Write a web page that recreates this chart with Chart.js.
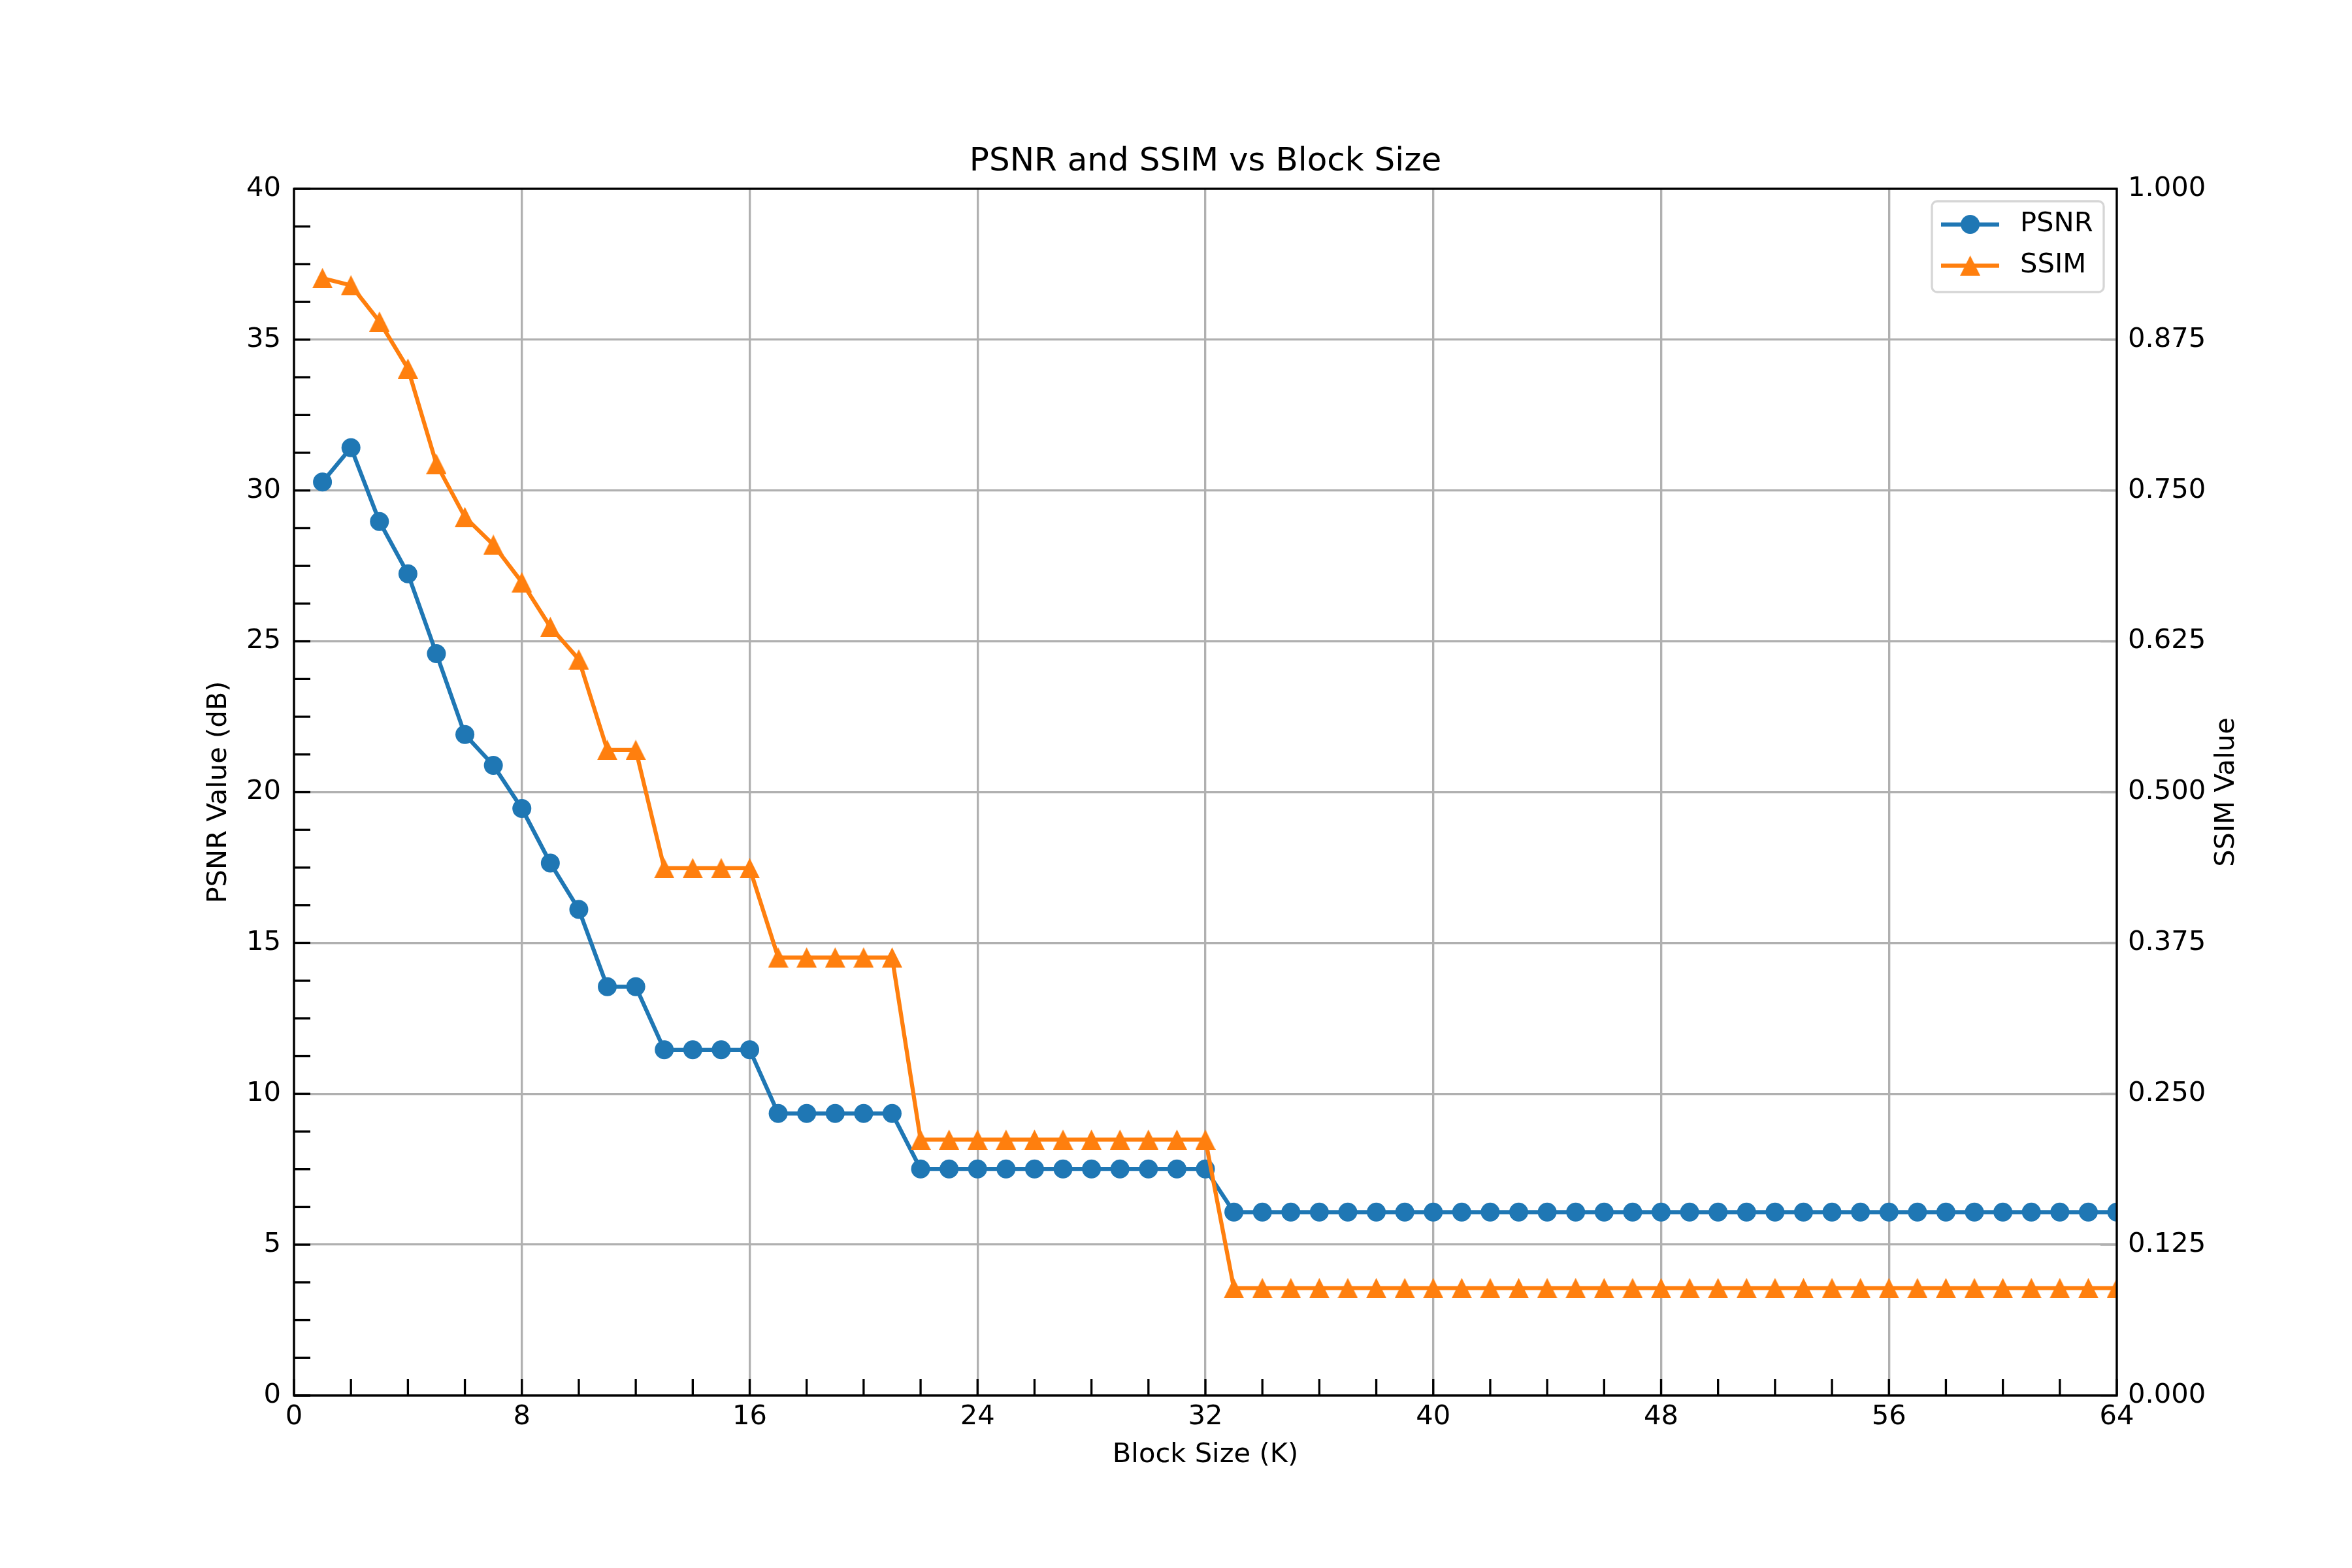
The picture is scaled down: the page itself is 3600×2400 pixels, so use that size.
<!DOCTYPE html>
<html>
<head>
<meta charset="utf-8">
<title>PSNR and SSIM vs Block Size</title>
<script src="https://cdn.jsdelivr.net/npm/chart.js@4.4.1/dist/chart.umd.min.js"></script>
<style>
    html, body { margin: 0; padding: 0; background: #ffffff; }
    #chart { display: block; }
</style>
</head>
<body>
<canvas id="chart" width="3600" height="2400"></canvas>
<script>
// Données
var blockSizes = [1, 2, 3, 4, 5, 6, 7, 8, 9, 10, 11, 12, 13, 14, 15, 16,
    17, 18, 19, 20, 21, 22, 23, 24, 25, 26, 27, 28, 29, 30, 31, 32,
    33, 34, 35, 36, 37, 38, 39, 40, 41, 42, 43, 44, 45, 46, 47, 48,
    49, 50, 51, 52, 53, 54, 55, 56, 57, 58, 59, 60, 61, 62, 63, 64];

var psnrValues = [30.28, 31.42, 28.97, 27.24, 24.59, 21.91, 20.89, 19.46, 17.65, 16.11, 13.55, 13.55,
    11.46, 11.46, 11.46, 11.46,
    9.35, 9.35, 9.35, 9.35, 9.35,
    7.51, 7.51, 7.51, 7.51, 7.51, 7.51, 7.51, 7.51, 7.51, 7.51, 7.51,
    6.08, 6.08, 6.08, 6.08, 6.08, 6.08, 6.08, 6.08, 6.08, 6.08, 6.08, 6.08, 6.08, 6.08, 6.08, 6.08,
    6.08, 6.08, 6.08, 6.08, 6.08, 6.08, 6.08, 6.08, 6.08, 6.08, 6.08, 6.08, 6.08, 6.08, 6.08, 6.08];

var ssimValues = [0.926, 0.920, 0.890, 0.851, 0.772, 0.728, 0.705, 0.674, 0.637, 0.610, 0.535, 0.535,
    0.437, 0.437, 0.437, 0.437,
    0.363, 0.363, 0.363, 0.363, 0.363,
    0.212, 0.212, 0.212, 0.212, 0.212, 0.212, 0.212, 0.212, 0.212, 0.212, 0.212,
    0.089, 0.089, 0.089, 0.089, 0.089, 0.089, 0.089, 0.089, 0.089, 0.089, 0.089, 0.089, 0.089, 0.089, 0.089, 0.089,
    0.089, 0.089, 0.089, 0.089, 0.089, 0.089, 0.089, 0.089, 0.089, 0.089, 0.089, 0.089, 0.089, 0.089, 0.089, 0.089];

var xTicks = [0, 8, 16, 24, 32, 40, 48, 56, 64];
var psnrTicks = [0, 5, 10, 15, 20, 25, 30, 35, 40];
var ssimTicks = [0, 0.125, 0.25, 0.375, 0.5, 0.625, 0.75, 0.875, 1];

var BLUE = '#1f77b4';
var ORANGE = '#ff7f0e';
var GRID = '#b0b0b0';
var FS = 41.67;
var TICK_LEN = 25;

Chart.defaults.font.family = "'DejaVu Sans', 'Liberation Sans', sans-serif";
Chart.defaults.font.size = FS;
Chart.defaults.color = '#000';

function makeTriangle(color, size) {
    var c = document.createElement('canvas');
    c.width = size;
    c.height = size;
    var g = c.getContext('2d');
    g.fillStyle = color;
    g.beginPath();
    g.moveTo(size / 2, 0);
    g.lineTo(size, size);
    g.lineTo(0, size);
    g.closePath();
    g.fill();
    return c;
}
var triangleImg = makeTriangle(ORANGE, 31);

function toPoints(values) {
    return blockSizes.map(function(k, i) { return { x: k, y: values[i] }; });
}

// ticks vers l'intérieur, cadre, titre de droite et légende
var axisDecor = {
    id: 'axisDecor',
    afterDatasetsDraw: function(chart) {
        var ctx = chart.ctx, a = chart.chartArea;
        var xs = chart.scales.x, ys = chart.scales.y, y2 = chart.scales.y2;
        ctx.save();
        ctx.lineCap = 'butt';
        function seg(x1, y1, x2, y2_, w, color) {
            ctx.beginPath();
            ctx.strokeStyle = color;
            ctx.lineWidth = w;
            ctx.moveTo(x1, y1);
            ctx.lineTo(x2, y2_);
            ctx.stroke();
        }
        var v, p;
        for (v = 0; v <= 64; v += 2) {
            p = xs.getPixelForValue(v);
            seg(p, a.bottom, p, a.bottom - TICK_LEN, 3.33, '#000');
        }
        for (v = 0; v <= 40; v += 1.25) {
            p = ys.getPixelForValue(v);
            seg(a.left, p, a.left + TICK_LEN, p, 3.33, '#000');
        }
        ssimTicks.forEach(function(t) {
            p = y2.getPixelForValue(t);
            seg(a.right, p, a.right - TICK_LEN, p, 3.33, GRID);
        });

        ctx.strokeStyle = '#000';
        ctx.lineWidth = 3.33;
        ctx.strokeRect(a.left, a.top, a.right - a.left, a.bottom - a.top);

        // titre de l'axe de droite, lu de bas en haut comme à gauche
        ctx.save();
        ctx.translate(3408.6, (a.top + a.bottom) / 2);
        ctx.rotate(-Math.PI / 2);
        ctx.font = FS + "px 'DejaVu Sans'";
        ctx.fillStyle = '#000';
        ctx.textAlign = 'center';
        ctx.textBaseline = 'middle';
        ctx.fillText('SSIM Value', 0, 0);
        ctx.restore();
        ctx.restore();
    },
    afterDraw: function(chart) {
        var ctx = chart.ctx;
        var bx = 2957, by = 308, bw = 263, bh = 139, r = 8;
        ctx.save();
        ctx.beginPath();
        ctx.moveTo(bx + r, by);
        ctx.arcTo(bx + bw, by, bx + bw, by + bh, r);
        ctx.arcTo(bx + bw, by + bh, bx, by + bh, r);
        ctx.arcTo(bx, by + bh, bx, by, r);
        ctx.arcTo(bx, by, bx + bw, by, r);
        ctx.closePath();
        ctx.fillStyle = 'rgba(255,255,255,0.8)';
        ctx.fill();
        ctx.strokeStyle = 'rgba(204,204,204,0.8)';
        ctx.lineWidth = 3.33;
        ctx.stroke();

        var rows = [
            { label: 'PSNR', color: BLUE, y: 343.5, marker: 'circle' },
            { label: 'SSIM', color: ORANGE, y: 406.6, marker: 'triangle' }
        ];
        rows.forEach(function(row) {
            ctx.beginPath();
            ctx.strokeStyle = row.color;
            ctx.lineWidth = 6.25;
            ctx.moveTo(2971, row.y);
            ctx.lineTo(3060, row.y);
            ctx.stroke();
            if (row.marker === 'circle') {
                ctx.beginPath();
                ctx.fillStyle = row.color;
                ctx.arc(3015.6, row.y, 14.5, 0, Math.PI * 2);
                ctx.fill();
            } else {
                ctx.drawImage(triangleImg, 3015.6 - 15.5, row.y - 15.5);
            }
            ctx.font = FS + "px 'DejaVu Sans'";
            ctx.fillStyle = '#000';
            ctx.textAlign = 'left';
            ctx.textBaseline = 'middle';
            ctx.fillText(row.label, 3092, row.y);
        });
        ctx.restore();
    }
};

new Chart(document.getElementById('chart'), {
    type: 'line',
    data: {
        datasets: [
            {
                label: 'PSNR',
                data: toPoints(psnrValues),
                yAxisID: 'y',
                order: 1,
                borderColor: BLUE,
                backgroundColor: BLUE,
                borderWidth: 6.25,
                borderJoinStyle: 'round',
                tension: 0,
                fill: false,
                clip: 0,
                pointStyle: 'circle',
                pointRadius: 14.5,
                pointHoverRadius: 14.5,
                pointBorderWidth: 0,
                pointBackgroundColor: BLUE
            },
            {
                label: 'SSIM',
                data: toPoints(ssimValues),
                yAxisID: 'y2',
                order: 0,
                borderColor: ORANGE,
                backgroundColor: ORANGE,
                borderWidth: 6.25,
                borderJoinStyle: 'round',
                tension: 0,
                fill: false,
                clip: 0,
                pointStyle: triangleImg,
                pointRadius: 15,
                pointHoverRadius: 15,
                pointBorderWidth: 0,
                pointBackgroundColor: ORANGE
            }
        ]
    },
    options: {
        responsive: false,
        maintainAspectRatio: false,
        devicePixelRatio: 1,
        animation: false,
        events: [],
        layout: { padding: 0 },
        plugins: {
            legend: { display: false },
            tooltip: { enabled: false },
            title: {
                display: true,
                text: 'PSNR and SSIM vs Block Size',
                fullSize: false,
                color: '#000',
                font: { size: 50, weight: 'normal' },
                padding: { top: 218, bottom: 11 }
            }
        },
        scales: {
            x: {
                type: 'linear',
                position: 'bottom',
                min: 0,
                max: 64,
                afterBuildTicks: function(s) { s.ticks = xTicks.map(function(v) { return { value: v }; }); },
                afterFit: function(s) { s.height = 264; },
                grid: { color: GRID, lineWidth: 3.33, drawTicks: false },
                border: { display: false },
                ticks: {
                    padding: 8,
                    maxRotation: 0,
                    autoSkip: false,
                    callback: function(v) { return String(v); }
                },
                title: { display: true, text: 'Block Size (K)', padding: { top: 0, bottom: 147.5 } }
            },
            y: {
                type: 'linear',
                position: 'left',
                min: 0,
                max: 40,
                afterBuildTicks: function(s) { s.ticks = psnrTicks.map(function(v) { return { value: v }; }); },
                afterFit: function(s) { s.width = 450; },
                grid: { color: GRID, lineWidth: 3.33, drawTicks: false },
                border: { display: false },
                ticks: {
                    padding: 20,
                    autoSkip: false,
                    callback: function(v) { return String(v); }
                },
                title: { display: true, text: 'PSNR Value (dB)', padding: { top: 310.6, bottom: 0 } }
            },
            y2: {
                type: 'linear',
                position: 'right',
                min: 0,
                max: 1,
                afterBuildTicks: function(s) { s.ticks = ssimTicks.map(function(v) { return { value: v }; }); },
                afterFit: function(s) { s.width = 360; },
                grid: { drawOnChartArea: false, drawTicks: false },
                border: { display: false },
                ticks: {
                    padding: 17,
                    autoSkip: false,
                    callback: function(v) { return Number(v).toFixed(3); }
                }
            }
        }
    },
    plugins: [axisDecor]
});
</script>
</body>
</html>
